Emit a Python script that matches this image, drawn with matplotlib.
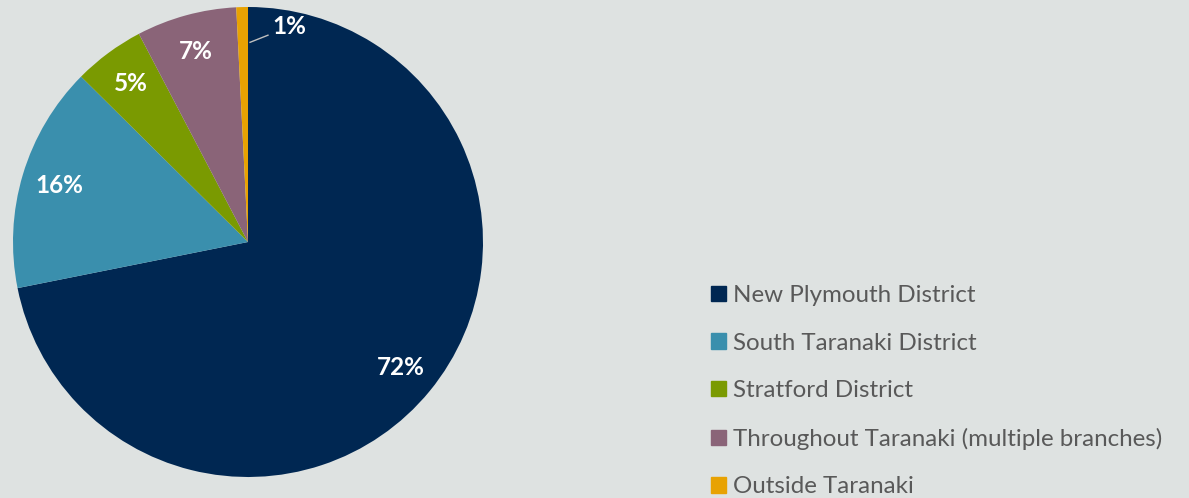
import matplotlib
matplotlib.use("Agg")
import matplotlib.pyplot as plt
import matplotlib.patches as mpatches
import numpy as np

BG = "#DEE2E1"
TEXT_GREY = "#595959"

REGIONS = [
    "New Plymouth District",
    "South Taranaki District",
    "Stratford District",
    "Throughout Taranaki (multiple branches)",
    "Outside Taranaki",
]
SHARES = [72.0, 15.6, 4.9, 6.9, 0.8]
COLORS = ["#002752", "#3A8FAD", "#7A9A01", "#8A6478", "#E8A202"]

plt.rcParams["font.family"] = ["Lato", "DejaVu Sans"]

W, H = 1189, 498
fig = plt.figure(figsize=(W / 100, H / 100), dpi=100, facecolor=BG)

# pie centred at (248, 242) px with radius 235 px
cx, cy, r = 248, 242, 235
ax = fig.add_axes([(cx - r) / W, (H - cy - r) / H, 2 * r / W, 2 * r / H])
ax.set_facecolor(BG)

wedges, _ = ax.pie(SHARES, colors=COLORS, startangle=90, counterclock=False,
                   radius=1, wedgeprops=dict(linewidth=0))
ax.set_xlim(-1, 1)
ax.set_ylim(-1, 1)
ax.set_aspect("equal")
ax.axis("off")

total = sum(SHARES)
for i, w in enumerate(wedges):
    mid = np.deg2rad((w.theta1 + w.theta2) / 2)
    label = f"{SHARES[i] / total * 100:.0f}%"
    if i < len(wedges) - 1:
        ax.text(0.84 * np.cos(mid), 0.84 * np.sin(mid), label,
                ha="center", va="center", fontsize=17.5, fontweight="bold",
                color="white")
    else:
        # small slice: label pulled out with a leader line
        x0, y0 = 0.85 * np.cos(mid) + 0.03, 0.85 * np.sin(mid)
        ax.plot([x0, 0.085], [y0, 0.88], color="#BFBFBF", lw=1)
        ax.text(0.105, 0.915, label, ha="left", va="center",
                fontsize=17.5, fontweight="bold", color="white")

handles = [mpatches.Patch(color=c, label=l) for c, l in zip(COLORS, REGIONS)]
fig.legend(handles=handles, loc="upper left",
           bbox_to_anchor=(711 / W, 1 - 285 / H), frameon=False,
           fontsize=17.4, labelcolor=TEXT_GREY, labelspacing=1.1,
           handlelength=0.62, handleheight=0.62, handletextpad=0.3,
           borderpad=0, borderaxespad=0)

fig.savefig("out.png", dpi=100, facecolor=BG)
